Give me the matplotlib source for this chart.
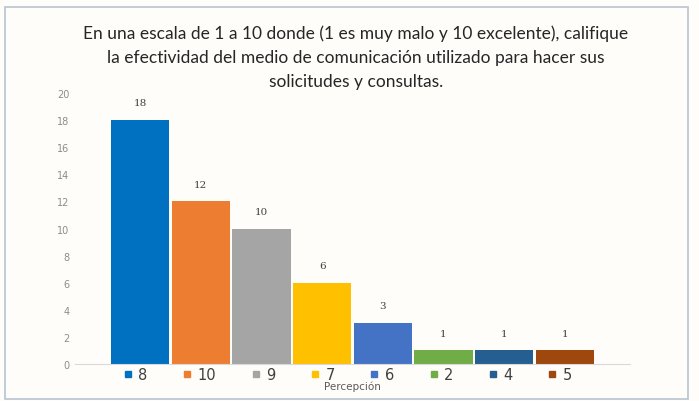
import matplotlib
matplotlib.use("Agg")
import matplotlib.pyplot as plt
from matplotlib.lines import Line2D
from matplotlib.patches import Rectangle

categories = ["8", "10", "9", "7", "6", "2", "4", "5"]
values = [18, 12, 10, 6, 3, 1, 1, 1]
colors = ["#0070C0", "#ED7D31", "#A5A5A5", "#FFC000", "#4472C4", "#70AD47", "#255E91", "#9E480E"]
yticks = [0, 2, 4, 6, 8, 10, 12, 14, 16, 18, 20]
title = ("En una escala de 1 a 10 donde (1 es muy malo y 10 excelente), califique\n"
         "la efectividad del medio de comunicación utilizado para hacer sus\n"
         "solicitudes y consultas.")
xlabel = "Percepción"

W, H = 699, 402
fig = plt.figure(figsize=(W / 100, H / 100), dpi=100)
fig.patch.set_facecolor("#FFFDFA")

# outer frame
fig.add_artist(Rectangle((5 / W, 2 / H), (688 - 5) / W, (394 - 2) / H, transform=fig.transFigure,
                         fill=False, edgecolor="#B8C4D0", linewidth=1.2))

ax = fig.add_axes([75 / W, 1 - 365 / H, (630 - 75) / W, (365 - 94) / H])
ax.set_facecolor("none")

x = list(range(len(categories)))
bars = ax.bar(x, values, width=0.96, color=colors, zorder=2)
for xi, v in zip(x, values):
    ax.annotate(str(v), (xi, v), xytext=(0, 12.5), textcoords="offset points",
                ha="center", va="center", fontsize=7.5, color="#404040",
                family="DejaVu Serif")

ax.set_xlim(-1.07, 8.07)
ax.set_ylim(0, 20)
ax.set_yticks(yticks)
ax.set_yticklabels([str(t) for t in yticks], fontsize=7, color="#8C8C8C")
ax.tick_params(axis="y", length=0, pad=4)
ax.set_xticks([])
for s in ["top", "right", "left"]:
    ax.spines[s].set_visible(False)
ax.spines["bottom"].set_color("#D9D9D9")
ax.spines["bottom"].set_linewidth(0.8)

handles = [Line2D([], [], marker="s", linestyle="none", markersize=4,
                  markerfacecolor=c, markeredgecolor=c) for c in colors]
leg = ax.legend(handles, categories, ncol=8, loc="upper left",
                bbox_to_anchor=(0.085, -0.01, 0.81, 0.0), mode="expand",
                frameon=False, fontsize=10.5, handlelength=0.8, handletextpad=0.3,
                borderaxespad=0, borderpad=0)
for t in leg.get_texts():
    t.set_color("#404040")

fig.text(352 / W, 1 - 387 / H, xlabel, ha="center", va="center", fontsize=7.5, color="#595959")

fig.text(356 / W, 1 - 58 / H, title, ha="center", va="center", fontsize=12.5,
         family="Lato", color="#262626", linespacing=1.62)

fig.savefig("out.png", dpi=100, facecolor=fig.get_facecolor())
